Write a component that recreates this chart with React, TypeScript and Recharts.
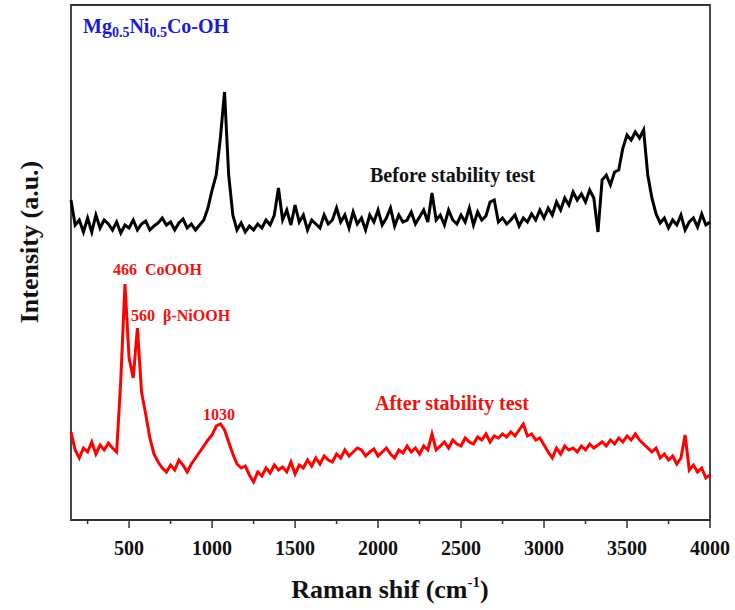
import React from 'react';
import { LineChart, Line, XAxis, YAxis, ReferenceArea } from 'recharts';

// Raman shift, cm-1 (every 25 from 150 to 4000)
const shifts: number[] = [];
for (let w = 150; w <= 4000; w += 25) shifts.push(w);

const majorTicks = [500, 1000, 1500, 2000, 2500, 3000, 3500, 4000];
const minorTicks = [250, 750, 1250, 1750, 2250, 2750, 3250, 3750];

// intensity (a.u.)
const before = [
  320, 295, 300, 288, 302, 288, 305, 292, 300, 296, 290, 298, 287, 295, 292, 300,
  290, 296, 299, 290, 294, 297, 302, 295, 298, 290, 297, 301, 292, 296, 290, 295,
  300, 312, 330, 345, 382, 428, 345, 305, 290, 297, 288, 294, 290, 296, 292, 300,
  295, 305, 332, 300, 310, 295, 315, 298, 305, 290, 300, 296, 292, 305, 296, 300,
  312, 298, 305, 292, 308, 296, 302, 290, 305, 298, 310, 295, 302, 312, 294, 305,
  298, 300, 308, 296, 303, 310, 298, 327, 300, 305, 295, 310, 300, 296, 305, 298,
  312, 295, 308, 300, 304, 318, 320, 298, 302, 296, 300, 305, 294, 302, 298, 306,
  300, 310, 302, 312, 305, 318, 310, 322, 315, 328, 320, 326, 318, 330, 322, 288,
  340, 345, 335, 348, 350, 372, 385, 380, 388, 382, 390, 345, 322, 306, 297, 302,
  292, 300, 295, 305, 290, 298, 302, 293, 306, 295, 298,
];

const after = [
  88, 70, 62, 72, 68, 78, 66, 75, 70, 77, 72, 68, 140, 236, 162, 142,
  192, 128, 106, 82, 66, 58, 52, 48, 55, 50, 60, 55, 48, 56, 62, 68,
  74, 80, 85, 94, 96, 90, 78, 66, 56, 52, 54, 45, 38, 48, 44, 52,
  47, 55, 50, 53, 48, 58, 46, 55, 52, 60, 54, 62, 56, 64, 60, 58,
  66, 62, 70, 64, 68, 72, 70, 64, 68, 71, 64, 68, 72, 66, 62, 70,
  67, 74, 68, 72, 66, 74, 70, 86, 70, 74, 78, 72, 80, 76, 74, 82,
  78, 76, 83, 80, 86, 78, 84, 82, 86, 83, 88, 84, 90, 96, 84, 86,
  80, 82, 75, 68, 62, 72, 66, 74, 70, 72, 68, 74, 70, 76, 72, 75,
  78, 74, 80, 76, 82, 78, 84, 80, 86, 80, 76, 72, 68, 72, 62, 66,
  60, 64, 56, 62, 85, 50, 55, 48, 52, 42, 45,
];

const data = shifts.map((w, i) => ({ w, before: before[i], after: after[i] }));

const serif = '"Liberation Serif", "Times New Roman", serif';
const frame = '#333';

function XTick(props: any) {
  const { x, y, payload } = props;
  const v = payload.value;
  const major = v % 500 === 0;
  const y0 = y - 8;
  return (
    <g>
      <line x1={x} x2={x} y1={y0} y2={y0 + (major ? 8 : 4)} stroke={frame} strokeWidth={1.5} />
      {major && (
        <text x={x} y={y0 + 35} textAnchor="middle" fontFamily={serif} fontWeight="bold" fontSize={20} fill="#111">
          {v}
        </text>
      )}
    </g>
  );
}

export default function App() {
  const txt = { fontFamily: serif, fontWeight: 'bold' as const };
  return (
    <div style={{ position: 'absolute', left: 0, top: 0, width: 735, height: 610, background: '#fff' }}>
      <LineChart width={735} height={610} data={data} margin={{ top: 5, right: 25, bottom: 0, left: 71 }}>
        <XAxis
          dataKey="w"
          type="number"
          domain={[150, 4000]}
          ticks={[...majorTicks, ...minorTicks].sort((a, b) => a - b)}
          interval={0}
          height={90}
          tickSize={8}
          tickMargin={0}
          tickLine={false}
          tick={<XTick />}
          axisLine={{ stroke: frame, strokeWidth: 1.5 }}
        />
        <YAxis type="number" domain={[0, 515]} hide />
        <Line dataKey="before" type="linear" stroke="#000" strokeWidth={3} dot={false} isAnimationActive={false} />
        <Line dataKey="after" type="linear" stroke="#ff0000" strokeWidth={3} dot={false} isAnimationActive={false} />
        <ReferenceArea x1={150} x2={4000} y1={0} y2={515} fill="none" fillOpacity={0} stroke={frame} strokeWidth={1.8} />
      </LineChart>
      <svg width={735} height={610} style={{ position: 'absolute', left: 0, top: 0, pointerEvents: 'none' }}>
        <text x={83} y={33} {...txt} fontSize={20} fill="#1a1ad6">
          Mg<tspan fontSize={14} dy={4}>0.5</tspan>
          <tspan dy={-4}>Ni</tspan>
          <tspan fontSize={14} dy={4}>0.5</tspan>
          <tspan dy={-4}>Co-OH</tspan>
        </text>
        <text x={370} y={182} {...txt} fontSize={20} fill="#111">Before stability test</text>
        <text x={375} y={410} {...txt} fontSize={20} fill="#f01010">After stability test</text>
        <text x={113} y={275} {...txt} fontSize={16} fill="#f01010" style={{ whiteSpace: 'pre' }}>466  CoOOH</text>
        <text x={131} y={321} {...txt} fontSize={16} fill="#f01010" style={{ whiteSpace: 'pre' }}>560  β-NiOOH</text>
        <text x={203} y={420} {...txt} fontSize={16} fill="#f01010">1030</text>
        <text x={390} y={598} {...txt} fontSize={26} fill="#111" textAnchor="middle">
          Raman shif (cm<tspan fontSize={15} dy={-11}>-1</tspan>
          <tspan dy={11}>)</tspan>
        </text>
        <text transform="translate(38,242) rotate(-90)" {...txt} fontSize={26} fill="#111" textAnchor="middle">
          Intensity (a.u.)
        </text>
      </svg>
    </div>
  );
}
